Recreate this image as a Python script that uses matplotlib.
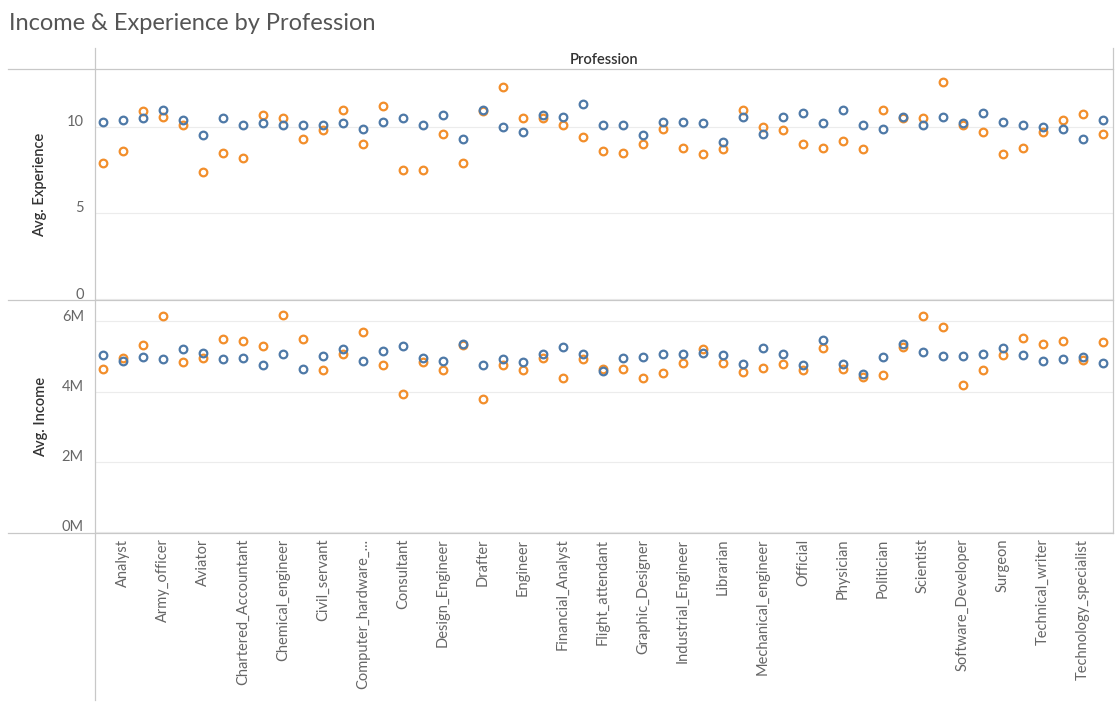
import matplotlib
matplotlib.use("Agg")
import matplotlib.pyplot as plt
from matplotlib.lines import Line2D
import matplotlib.transforms as mtrans

professions = ["Air_traffic_controller","Analyst","Architect","Army_officer","Artist","Aviator",
 "Biomedical_Engineer","Chartered_Accountant","Chef","Chemical_engineer","Civil_engineer","Civil_servant",
 "Comedian","Computer_hardware_engineer","Computer_operator","Consultant","Dentist","Design_Engineer",
 "Designer","Drafter","Economist","Engineer","Fashion_Designer","Financial_Analyst","Firefighter",
 "Flight_attendant","Geologist","Graphic_Designer","Hotel_Manager","Industrial_Engineer","Lawyer",
 "Librarian","Magistrate","Mechanical_engineer","Microbiologist","Official","Petroleum_Engineer",
 "Physician","Police_officer","Politician","Psychologist","Scientist","Secretary","Software_Developer",
 "Statistician","Surgeon","Surveyor","Technical_writer","Technician","Technology_specialist","Web_designer"]

exp_blue = [10.3,10.4,10.5,10.99,10.4,9.5,10.5,10.1,10.2,10.1,10.1,10.1,10.2,9.9,10.3,10.5,10.1,10.7,9.3,10.99,
            10.0,9.7,10.7,10.6,11.3,10.1,10.1,9.5,10.3,10.3,10.2,9.1,10.6,9.6,10.6,10.8,10.2,11.0,10.1,9.9,
            10.6,10.1,10.6,10.2,10.8,10.3,10.1,10.0,9.9,9.3,10.4]
exp_orange = [7.9,8.6,10.9,10.6,10.1,7.4,8.5,8.2,10.7,10.5,9.3,9.8,10.99,9.0,11.2,7.5,7.5,9.6,7.9,10.9,
              12.3,10.5,10.5,10.1,9.4,8.6,8.5,9.0,9.9,8.8,8.4,8.7,10.99,10.0,9.8,9.0,8.8,9.2,8.7,10.99,
              10.5,10.5,12.6,10.1,9.7,8.4,8.8,9.7,10.4,10.75,9.6]
inc_blue = [5.04,4.87,4.99,4.93,5.21,5.10,4.93,4.96,4.76,5.07,4.64,5.01,5.21,4.87,5.16,5.30,4.96,4.87,5.36,4.76,
            4.93,4.84,5.07,5.27,5.07,4.59,4.96,4.99,5.07,5.07,5.10,5.04,4.79,5.24,5.07,4.76,5.47,4.79,4.50,4.99,
            5.36,5.13,5.01,5.01,5.07,5.24,5.04,4.87,4.93,4.99,4.82]
inc_orange = [4.64,4.96,5.33,6.15,4.84,4.96,5.50,5.44,5.30,6.18,5.50,4.62,5.07,5.70,4.76,3.93,4.84,4.62,5.33,3.79,
              4.76,4.62,4.96,4.39,4.93,4.64,4.64,4.39,4.53,4.81,5.21,4.81,4.56,4.67,4.79,4.62,5.24,4.64,4.42,4.47,
              5.27,6.15,5.84,4.19,4.62,5.04,5.53,5.36,5.44,4.90,5.41]

BLUE = "#4e79a7"; ORANGE = "#f28e2b"; GRAY = "#666666"
plt.rcParams['font.family'] = ['Lato', 'DejaVu Sans']
W, H = 1119, 705
fig = plt.figure(figsize=(W/100, H/100), dpi=100)

def frac(x0, y0, x1, y1):
    return [x0/W, 1-y1/H, (x1-x0)/W, (y1-y0)/H]

ax1 = fig.add_axes(frac(95, 70, 1113, 300))
ax2 = fig.add_axes(frac(95, 300, 1113, 533))
x = list(range(len(professions)))
mk = dict(marker='o', linestyle='none', markersize=5.5, markerfacecolor='none', markeredgewidth=1.6)

ax1.plot(x, exp_orange, color=ORANGE, **mk)
ax1.plot(x, exp_blue, color=BLUE, **mk)
ax2.plot(x, inc_orange, color=ORANGE, **mk)
ax2.plot(x, inc_blue, color=BLUE, **mk)

shift = mtrans.ScaledTranslation(0, 6/100, fig.dpi_scale_trans)
for ax in (ax1, ax2):
    ax.set_xlim(-0.4, 50.5)
    for s in ax.spines.values():
        s.set_visible(False)
    ax.grid(axis='y', color='#ececec', linewidth=0.8)
    ax.set_axisbelow(True)
    ax.tick_params(axis='y', length=0, labelsize=10.5, labelcolor=GRAY, pad=8)
    ax.tick_params(axis='x', length=0)

ax1.set_ylim(-0.05, 13.3)
ax1.set_yticks([0, 5, 10])
ax1.set_xticks([])
ax1.set_ylabel("Avg. Experience", fontsize=10.5, color="#333333", labelpad=14, fontweight='semibold')

ax2.set_ylim(-0.03, 6.61)
ax2.set_yticks([0, 2, 4, 6])
ax2.set_yticklabels(["0M", "2M", "4M", "6M"])
ax2.set_ylabel("Avg. Income", fontsize=10.5, color="#333333", labelpad=10, fontweight='semibold')
ax2.set_xticks(x[1::2])
ax2.set_xticklabels([p if len(p) <= 22 else p[:18] + "..." for p in professions[1::2]],
                    rotation=90, fontsize=10.5, color=GRAY)
ax2.tick_params(axis='x', pad=4)

for ax in (ax1, ax2):
    for lab in ax.get_yticklabels():
        lab.set_transform(lab.get_transform() + shift)

lc = '#c8c8c8'
for yy in (69, 300, 533):
    fig.add_artist(Line2D([8/W, 1113/W], [1-yy/H, 1-yy/H], color=lc, linewidth=0.9))
fig.add_artist(Line2D([95/W, 95/W], [1-48/H, 1-700/H], color=lc, linewidth=0.9))
fig.add_artist(Line2D([1113/W, 1113/W], [1-48/H, 1-533/H], color=lc, linewidth=0.9))

fig.text(604/W, 1-60/H, "Profession", ha='center', va='center', fontsize=10.5, color="#333333", fontweight='semibold')
fig.text(9/W, 1-23/H, "Income & Experience by Profession", ha='left', va='center', fontsize=17, color="#555555")

fig.savefig("out.png", dpi=100)
